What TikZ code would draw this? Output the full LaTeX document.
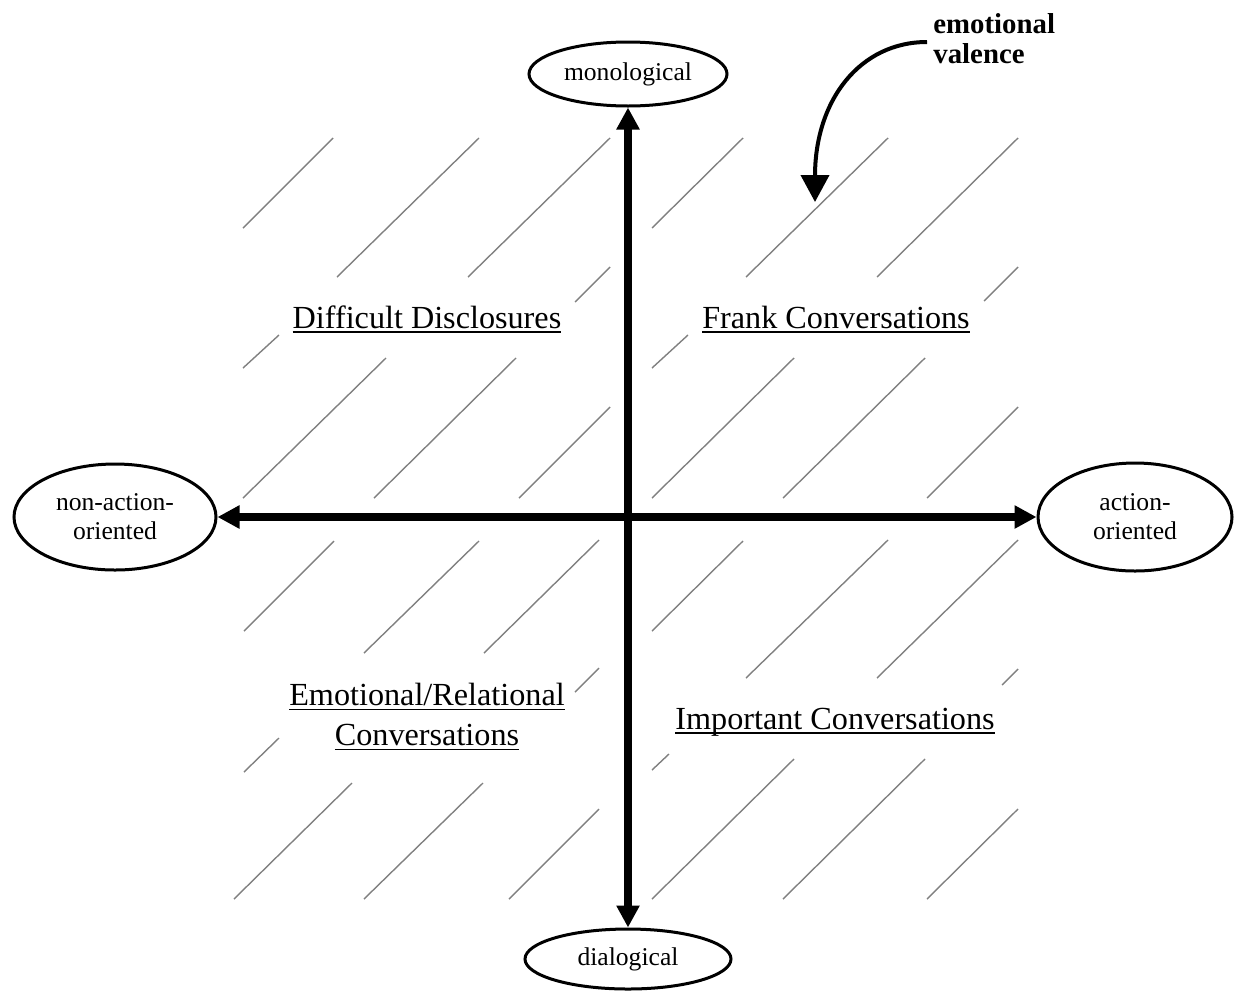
\documentclass[tikz,border=0pt]{standalone}
\usepackage{fontspec}
\setmainfont{Liberation Serif}
\usetikzlibrary{arrows.meta,shapes.geometric}

\newcommand{\polefont}{\fontsize{12.8}{14.5}\selectfont}
\newcommand{\quadfont}{\fontsize{16.1}{20}\selectfont}
\newcommand{\notefont}{\fontsize{14.4}{15}\selectfont\bfseries}
\newcommand{\quadline}[1]{\setbox0\hbox{#1}\rlap{\rule[-2.3pt]{\wd0}{0.6pt}}\box0}

\begin{document}
\begin{tikzpicture}[x=0.5pt,y=-0.5pt,
    hatch/.style={draw=gray, line width=0.7pt},
    axis/.style={line width=4pt, {Triangle[length=11pt,width=11pt]}-{Triangle[length=11pt,width=11pt]}},
    valarrow/.style={line width=2pt, -{Triangle[length=13.5pt,width=14pt]}}]
        \useasboundingbox (0,0) rectangle (1234,991);
        % hatching, one path per quadrant
        \path[hatch] (243,228) -- (333,138) (337,277) -- (479,138) (468,277) -- (610,138) (575,302) -- (610,267)
            (243,368) -- (279,335) (243,498) -- (386,358) (374,498) -- (516,358) (519,498) -- (610,407);
        \path[hatch] (652,228) -- (743,138) (746,277) -- (888,138) (877,277) -- (1018,138) (984,301) -- (1018,267)
            (652,368) -- (688,335) (652,498) -- (794,358) (783,498) -- (925,358) (927,498) -- (1018,407);
        \path[hatch] (244,631) -- (334,541) (364,653) -- (479,541) (484,653) -- (599,540) (575,692) -- (599,668)
            (244,772) -- (279,738) (234,899) -- (352,783) (364,899) -- (483,783) (509,899) -- (599,809);
        \path[hatch] (652,631) -- (743,541) (746,678) -- (888,540) (877,678) -- (1018,540) (1002,685) -- (1018,669)
            (652,770) -- (669,754) (652,899) -- (794,759) (783,899) -- (925,759) (927,899) -- (1018,809);
        \begin{scope}[every node/.style={draw, ellipse, line width=1.5pt, inner sep=0pt, align=center, font=\polefont}]
            \node[minimum width=99pt, minimum height=32pt] (Mono) at (628,74) {monological};
            \node[minimum width=103pt, minimum height=30pt] (Dia) at (628,959) {dialogical};
            \node[minimum width=97pt, minimum height=54pt] (Act) at (1135,517) {action-\\oriented};
            \node[minimum width=101pt, minimum height=53pt] (NonAct) at (115,517) {non-action-\\oriented};
        \end{scope}
        \begin{scope}[every node/.style={inner sep=0pt, align=center, font=\quadfont}]
            \node[anchor=base] (Difficult) at (427,328) {\quadline{Difficult Disclosures}};
            \node[anchor=base] (Frank) at (836,328) {\quadline{Frank Conversations}};
            \node (Emotional) at (427,717) {\quadline{Emotional/Relational}\\\quadline{Conversations}};
            \node[anchor=base] (Important) at (835,729) {\quadline{Important Conversations}};
        \end{scope}
        \node[anchor=north west, inner sep=0pt, align=left, font=\notefont] (Valence) at (933,13) {emotional\\valence};
        \coordinate (ValStart) at (927,42);
        \coordinate (ValTip) at (815,202);
        \draw[axis] (Mono) -- (Dia);
        \draw[axis] (NonAct) -- (Act);
        \draw[valarrow] (ValStart) .. controls (860,42) and (815,100) .. (ValTip);
    \end{tikzpicture}
\end{document}
